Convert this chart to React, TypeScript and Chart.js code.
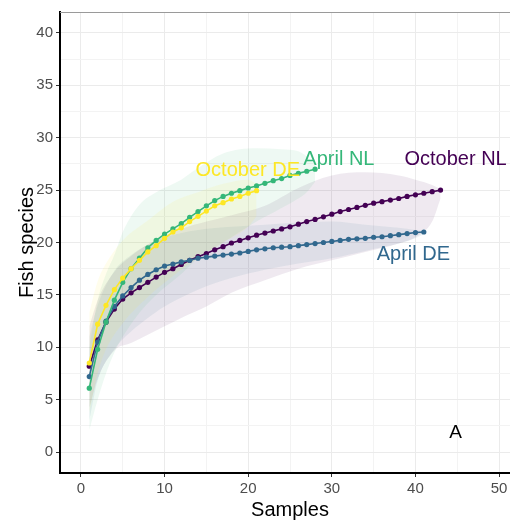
import React, { useEffect, useRef } from "react";
import { Chart, registerables } from "chart.js";
Chart.register(...registerables);

// Rarefaction curves (species vs samples), sample index = position + 1
const octoberNL = [8.2, 10.7, 12.4, 13.65, 14.6, 15.2, 15.7, 16.2, 16.7, 17.15, 17.5, 17.9, 18.3, 18.65, 18.95, 19.3, 19.6, 19.95, 20.2, 20.45, 20.7, 20.9, 21.1, 21.3, 21.5, 21.75, 22.0, 22.2, 22.45, 22.7, 22.95, 23.15, 23.35, 23.55, 23.75, 23.9, 24.05, 24.2, 24.4, 24.55, 24.7, 24.85, 25.0];
const aprilDE = [7.2, 10.5, 12.5, 13.9, 14.9, 15.7, 16.4, 16.95, 17.4, 17.75, 17.95, 18.15, 18.3, 18.5, 18.6, 18.7, 18.8, 18.9, 19.0, 19.15, 19.3, 19.4, 19.5, 19.55, 19.6, 19.7, 19.8, 19.9, 20.0, 20.1, 20.2, 20.3, 20.35, 20.4, 20.5, 20.55, 20.65, 20.75, 20.85, 20.95, 21.0];
const aprilNL = [6.1, 9.8, 12.4, 14.5, 16.2, 17.5, 18.5, 19.5, 20.2, 20.8, 21.3, 21.8, 22.4, 22.95, 23.5, 24.0, 24.4, 24.7, 24.95, 25.2, 25.4, 25.65, 25.9, 26.1, 26.4, 26.6, 26.8, 27.0];
const octoberDE = [8.5, 12.2, 14.0, 15.5, 16.6, 17.5, 18.3, 19.1, 19.7, 20.4, 21.0, 21.4, 22.0, 22.5, 23.0, 23.5, 23.8, 24.15, 24.4, 24.7, 24.95];

// Confidence ribbons
const bandONLx = [1, 2, 4, 6, 8, 10, 12, 15, 18, 22, 26, 30, 34, 38, 40, 42, 43];
const bandONLhi = [12, 14.5, 17.2, 18.7, 19.8, 20.6, 21.3, 22.0, 22.6, 23.5, 25.2, 26.4, 26.7, 26.4, 26.0, 25.5, 25.1];
const bandONLlo = [4.2, 7, 9.7, 10.4, 11.2, 12, 12.8, 13.9, 15.2, 16.4, 17.5, 18.3, 19.1, 19.9, 20.5, 22, 24.2];

const bandADEx = [1, 2, 4, 6, 8, 10, 14, 18, 22, 26, 30, 34, 38, 40, 41];
const bandADEhi = [11, 14, 17.3, 18.8, 19.8, 20.5, 21.2, 21.5, 21.7, 21.9, 22.0, 21.7, 21.4, 21.2, 21.1];
const bandADElo = [3, 6.8, 9.8, 11.5, 12.8, 13.9, 15.5, 16.6, 17.4, 18.0, 18.5, 19.2, 19.9, 20.4, 20.8];

const bandANLx = [1, 2, 3, 4, 5, 7, 9, 12, 14, 17, 21, 24, 26, 27, 28];
const bandANLhi = [10, 14.5, 17, 18.8, 21, 23.6, 24.8, 26, 27.1, 28.5, 29, 28.9, 28.7, 28.2, 27.4];
const bandANLlo = [2.1, 5, 7.5, 9.5, 11, 13.3, 15, 17, 18.5, 20, 22, 23.3, 24.2, 24.8, 25.8];

const bandODEx = [1, 2, 3, 5, 8, 11, 14, 17, 20, 21];
const bandODEhi = [13.3, 16.3, 18, 20.2, 22.1, 23.9, 24.8, 25.6, 26, 25.6];
const bandODElo = [3.8, 7.5, 9.8, 12.3, 14.8, 16.8, 18.5, 20, 21.5, 22.5];

const seriesNames = ["October DE", "April NL", "April DE", "October NL"];
const seriesValues = [octoberDE, aprilNL, aprilDE, octoberNL];
const seriesColors = ["#FDE725", "#35B779", "#31688E", "#440154"];
const bandX = [bandODEx, bandANLx, bandADEx, bandONLx];
const bandLo = [bandODElo, bandANLlo, bandADElo, bandONLlo];
const bandHi = [bandODEhi, bandANLhi, bandADEhi, bandONLhi];

// Direct labels (data coordinates)
const labelTexts = ["October DE", "April NL", "October NL", "April DE", "A"];
const labelX = [19.95, 30.85, 44.8, 39.75, 44.8];
const labelY = [26.85, 27.9, 27.9, 18.9, 1.85];
const labelColors = ["#FDE725", "#35B779", "#440154", "#31688E", "#000000"];

const xTicks = [0, 5, 10, 15, 20, 25, 30, 35, 40, 45, 50];
const yTicks = [0, 2.5, 5, 7.5, 10, 12.5, 15, 17.5, 20, 22.5, 25, 27.5, 30, 32.5, 35, 37.5, 40];

const FONT = '"Liberation Sans", Arial, sans-serif';

function hexA(hex: string, a: number) {
  const n = parseInt(hex.slice(1), 16);
  return `rgba(${(n >> 16) & 255},${(n >> 8) & 255},${n & 255},${a})`;
}

export default function App() {
  const ref = useRef<HTMLCanvasElement | null>(null);
  useEffect(() => {
    if (!ref.current) return;
    const datasets: any[] = [];
    seriesValues.forEach((vals, i) => {
      datasets.push({
        label: seriesNames[i],
        data: vals.map((v, k) => ({ x: k + 1, y: v })),
        borderColor: seriesColors[i],
        backgroundColor: seriesColors[i],
        pointBackgroundColor: seriesColors[i],
        pointBorderWidth: 0,
        pointRadius: 2.6,
        borderWidth: 1.6,
        fill: false,
        order: i,
      });
    });
    seriesValues.forEach((_, i) => {
      datasets.push({
        label: seriesNames[i] + " lo",
        data: bandX[i].map((x, k) => ({ x, y: bandLo[i][k] })),
        borderWidth: 0,
        borderColor: "transparent",
        pointRadius: 0,
        fill: false,
        tension: 0.4,
        cubicInterpolationMode: "monotone",
        order: 10,
      });
      datasets.push({
        label: seriesNames[i] + " hi",
        data: bandX[i].map((x, k) => ({ x, y: bandHi[i][k] })),
        borderWidth: 0,
        borderColor: "transparent",
        pointRadius: 0,
        fill: "-1",
        backgroundColor: hexA(seriesColors[i], 0.085),
        tension: 0.4,
        cubicInterpolationMode: "monotone",
        order: 10,
      });
    });

    const labelPlugin = {
      id: "labels",
      afterDraw(chart: any) {
        const { ctx, chartArea } = chart;
        const xs = chart.scales.x, ys = chart.scales.y;
        ctx.save();
        ctx.strokeStyle = "#9a9a9a";
        ctx.lineWidth = 1;
        ctx.beginPath();
        ctx.moveTo(chartArea.left, chartArea.top + 0.5);
        ctx.lineTo(chartArea.right, chartArea.top + 0.5);
        ctx.stroke();
        ctx.textAlign = "center";
        ctx.textBaseline = "middle";
        labelTexts.forEach((t, i) => {
          ctx.fillStyle = labelColors[i];
          ctx.font = `${t === "A" ? 19 : 20}px ${FONT}`;
          ctx.fillText(t, xs.getPixelForValue(labelX[i]), ys.getPixelForValue(labelY[i]));
        });
        ctx.restore();
      },
    };

    const chart = new Chart(ref.current, {
      type: "line",
      data: { datasets },
      plugins: [labelPlugin],
      options: {
        animation: false,
        responsive: false,
        devicePixelRatio: 1,
        layout: { padding: { top: 12, right: 10, left: 0, bottom: 0 } },
        plugins: {
          legend: { display: false },
          tooltip: { enabled: false },
          filler: { drawTime: "beforeDatasetsDraw" },
        },
        scales: {
          x: {
            type: "linear",
            min: -2.5,
            max: 52.5,
            afterBuildTicks: (s: any) => { s.ticks = xTicks.map((v) => ({ value: v })); },
            afterFit: (s: any) => { s.height = 49; },
            grid: {
              color: (c: any) => (c.tick && c.tick.value % 10 === 0 ? "#EBEBEB" : "#F3F3F3"),
              tickColor: (c: any) => (c.tick && c.tick.value % 10 === 0 ? "#333333" : "rgba(0,0,0,0)"),
              tickLength: 4,
              lineWidth: 1,
            },
            border: { display: true, color: "#000000", width: 2 },
            ticks: {
              autoSkip: false,
              maxRotation: 0,
              padding: 3,
              color: "#4D4D4D",
              font: { size: 15, family: FONT },
              callback: (v: any) => (v % 10 === 0 ? String(v) : ""),
            },
            title: {
              display: true,
              text: "Samples",
              color: "#000000",
              font: { size: 20, family: FONT },
              padding: { top: 0, bottom: 0 },
            },
          },
          y: {
            type: "linear",
            min: -2,
            max: 42,
            afterBuildTicks: (s: any) => { s.ticks = yTicks.map((v) => ({ value: v })); },
            afterFit: (s: any) => { s.width = 60; },
            grid: {
              color: (c: any) => (c.tick && c.tick.value % 5 === 0 ? "#EBEBEB" : "#F3F3F3"),
              tickColor: (c: any) => (c.tick && c.tick.value % 5 === 0 ? "#333333" : "rgba(0,0,0,0)"),
              tickLength: 4,
              lineWidth: 1,
            },
            border: { display: true, color: "#000000", width: 2 },
            ticks: {
              autoSkip: false,
              padding: 3,
              color: "#4D4D4D",
              font: { size: 15, family: FONT },
              callback: (v: any) => (v % 5 === 0 ? String(v) : ""),
            },
            title: {
              display: true,
              text: "Fish species",
              color: "#000000",
              font: { size: 20, family: FONT },
              padding: { top: 15, bottom: 0 },
            },
          },
        },
      } as any,
    });
    return () => chart.destroy();
  }, []);

  return (
    <div style={{ position: "fixed", left: 0, top: 0, width: 510, height: 522, overflow: "hidden", background: "#fff" }}>
      <canvas ref={ref} width={530} height={522} style={{ width: 530, height: 522, display: "block" }} />
    </div>
  );
}
